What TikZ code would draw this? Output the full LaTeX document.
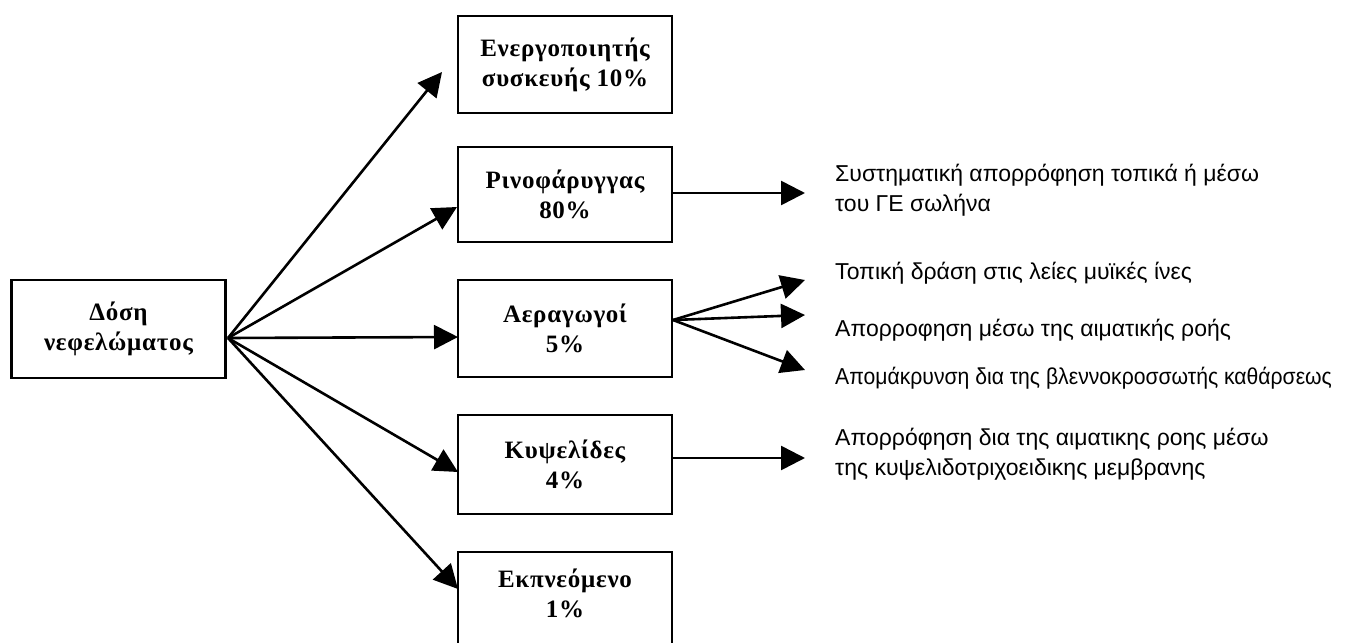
\documentclass[tikz,border=0pt]{standalone}
\usepackage{fontspec}
\setmainfont{Liberation Serif}
\newfontfamily\rsans{Liberation Sans}
\newfontfamily\rsansnarrow[FakeStretch=0.92]{Liberation Sans}
\newfontfamily\bxfont[LetterSpace=3]{Liberation Serif}
\usetikzlibrary{arrows.meta}
\begin{document}
\begin{tikzpicture}[x=1pt,y=-1pt,
  boxnode/.style={draw, line width=2.8pt, minimum width=214pt, minimum height=97pt, inner sep=0pt, align=center, font=\bxfont\bfseries\fontsize{25}{30}\selectfont},
  boxtext/.style={inner sep=0pt, align=center, font=\bxfont\bfseries\fontsize{25}{30}\selectfont},
  arr/.style={line width=2.6pt, -{Triangle[length=24pt,width=24pt]}},
  rtext/.style={anchor=west, align=left, inner sep=0pt, font=\rsans\fontsize{23}{30}\selectfont}]
\clip (0,0) rectangle (1356,642);
\fill[white] (0,0) rectangle (1356,642);
% boxes
\node[boxnode, minimum height=98pt] (dose) at (118.5,329) {Δόση\\νεφελώματος};
\node[boxnode] (enerq) at (565,64.5) {Ενεργοποιητής\\συσκευής 10\%};
\node[boxnode, minimum height=95pt] (rino) at (565,194.5) {Ρινοφάρυγγας\\80\%};
\node[boxnode] (aer) at (565,328.5) {Αεραγωγοί\\5\%};
\node[boxnode, minimum height=99pt] (kyps) at (565,464.5) {Κυψελίδες\\4\%};
\node[boxnode, minimum height=100pt] (ekpn) at (565,602) {};
\node[boxtext] (ekpntext) at (565,593) {Εκπνεόμενο\\1\%};
% right texts
\node[rtext] (t1) at (835,190) {Συστηματική απορρόφηση τοπικά ή μέσω\\του ΓΕ σωλήνα};
\node[rtext] (t2) at (835,273) {Τοπική δράση στις λείες μυϊκές ίνες};
\node[rtext] (t3) at (835,330) {Απορροφηση μέσω της αιματικής ροής};
\node[rtext, font=\rsansnarrow\fontsize{23}{30}\selectfont] (t4) at (835,378) {Απομάκρυνση δια της βλεννοκροσσωτής καθάρσεως};
\node[rtext] (t5) at (835,454) {Απορρόφηση δια της αιματικης ροης μέσω\\της κυψελιδοτριχοειδικης μεμβρανης};
% connector points
\coordinate (src) at (228,338);
\coordinate (pEn) at (442,72);
\coordinate (pRi) at (457,207);
\coordinate (pAe) at (458,337);
\coordinate (pKy) at (458,472);
\coordinate (pEk) at (458,589);
\coordinate (aerOut) at (673,320);
\coordinate (q1) at (805,193);
\coordinate (q2) at (805,280);
\coordinate (q3) at (805,315);
\coordinate (q4) at (805,370);
\coordinate (q5) at (805,458);
% arrows from dose
\draw[arr] (src) -- (pEn);
\draw[arr] (src) -- (pRi);
\draw[arr] (src) -- (pAe);
\draw[arr] (src) -- (pKy);
\draw[arr] (src) -- (pEk);
% arrows to the right
\draw[arr] (rino.east |- q1) -- (q1);
\draw[arr] (aerOut) -- (q2);
\draw[arr] (aerOut) -- (q3);
\draw[arr] (aerOut) -- (q4);
\draw[arr] (kyps.east |- q5) -- (q5);
\end{tikzpicture}
\end{document}
